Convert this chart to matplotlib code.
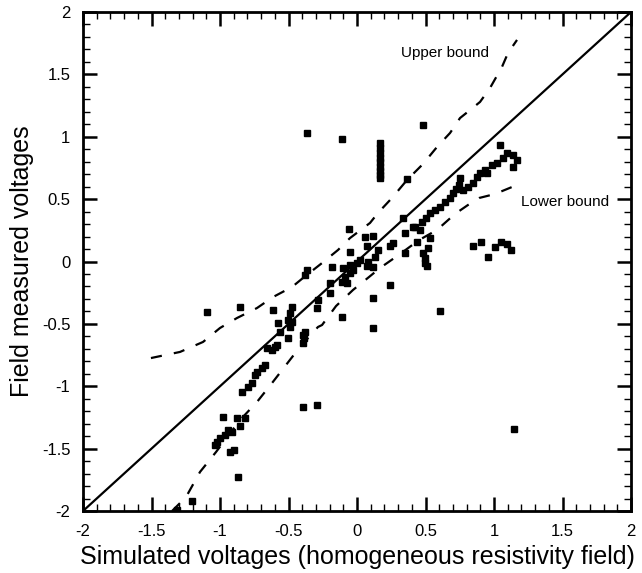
import matplotlib
matplotlib.use("Agg")
import matplotlib.pyplot as plt
from matplotlib.ticker import MultipleLocator
import numpy as np

plt.rcParams['font.family'] = ['Liberation Sans', 'DejaVu Sans']

# Scatter: simulated (x) vs field measured (y) voltages
sim_v = [-0.365, -0.109, 0.482,
         0.168, 0.168, 0.168, 0.168, 0.168, 0.168, 0.168, 0.165, 0.165,
         0.365, 1.044, 1.095, 1.139, 1.168, 1.139, 1.022, 0.985, 0.949, 0.898,
         0.876, 0.847, 0.810, 0.774, 0.752, 0.745, 0.701, 0.679, 0.642, 0.606,
         0.569, 0.533, 0.474, 0.423, 0.504, 0.723, 0.934, 1.066,
         0.336, 0.460, 0.409, 0.350, 0.263, 0.241, 0.350, 0.518, 0.482, 0.496,
         0.496, 0.511, 0.533, 0.438,
         0.847, 0.905, 0.956, 1.007, 1.051, 1.095, 1.124,
         0.606, 0.241, 0.117, 0.117,
         -0.058, 0.058, 0.117, 0.073, -0.051, 0.153, 0.131, 0.080, 0.073, 0.022,
         0.000, -0.051, -0.029, -0.051, -0.102, -0.088, -0.073, -0.109, -0.182,
         -0.197, -0.197, -0.285, -0.292, -0.365, -0.380, -0.109, 0.117,
         -0.613, -0.854, -1.095,
         -0.474, -0.489, -0.504, -0.489, -0.577, -0.474, -0.562, -0.504, -0.584,
         -0.394, -0.380, -0.387, -0.394,
         -0.657, -0.620, -0.599, -0.672, -0.693, -0.730, -0.745, -0.766, -0.796,
         -0.839, -0.978, -0.876, -0.818, -0.854, -0.912, -0.942, -0.964, -1.000,
         -1.022, -1.036, -0.927, -0.898, -0.869, -1.204, -1.314,
         -0.394, -0.292, 1.146]
field_v = [1.030, 0.982, 1.094,
           0.950, 0.910, 0.870, 0.830, 0.798, 0.758, 0.725, 0.693, 0.669,
           0.661, 0.934, 0.870, 0.854, 0.814, 0.758, 0.790, 0.774, 0.709, 0.709,
           0.677, 0.629, 0.597, 0.573, 0.669, 0.613, 0.549, 0.509, 0.477, 0.437,
           0.413, 0.389, 0.317, 0.277, 0.349, 0.581, 0.733, 0.830,
           0.349, 0.252, 0.277, 0.229, 0.148, 0.124, 0.068, 0.108, 0.068, 0.028,
           -0.012, -0.036, 0.188, 0.156,
           0.124, 0.156, 0.036, 0.116, 0.156, 0.140, 0.092,
           -0.397, -0.188, -0.293, -0.533,
           0.261, 0.196, 0.204, 0.124, 0.076, 0.092, 0.036, -0.004, -0.036, 0.012,
           -0.012, -0.028, -0.068, -0.092, -0.052, -0.124, -0.172, -0.164, -0.044,
           -0.172, -0.252, -0.309, -0.373, -0.068, -0.108, -0.445, -0.044,
           -0.389, -0.365, -0.405,
           -0.365, -0.413, -0.469, -0.525, -0.493, -0.485, -0.565, -0.613, -0.669,
           -0.589, -0.565, -0.613, -0.653,
           -0.693, -0.709, -0.685, -0.830, -0.854, -0.886, -0.910, -0.974, -1.006,
           -1.046, -1.246, -1.254, -1.254, -1.318, -1.367, -1.351, -1.391, -1.415,
           -1.447, -1.471, -1.527, -1.511, -1.727, -1.920, -1.990,
           -1.166, -1.150, -1.343]

# Upper bound (dashed)
upper_x = [-1.504, -1.292, -1.124, -1.000, -0.876, -0.730, -0.613, -0.474, -0.394,
           -0.255, -0.139, -0.051, 0.095, 0.153, 0.255, 0.365, 0.482, 0.584, 0.679,
           0.752, 0.825, 0.898, 0.971, 1.058, 1.102, 1.168]
upper_y = [-0.774, -0.725, -0.645, -0.533, -0.453, -0.373, -0.285, -0.204, -0.132,
           -0.012, 0.092, 0.188, 0.309, 0.389, 0.509, 0.653, 0.782, 0.918, 1.030,
           1.150, 1.214, 1.279, 1.391, 1.559, 1.671, 1.776]

# Lower bound (dashed)
lower_x = [-1.350, -1.248, -1.146, -1.029, -0.854, -0.730, -0.620, -0.496, -0.416,
           -0.285, -0.255, -0.153, -0.029, 0.088, 0.168, 0.314, 0.453, 0.584, 0.715,
           0.810, 0.891, 1.007, 1.131]
lower_y = [-2.000, -1.888, -1.687, -1.527, -1.271, -1.126, -0.974, -0.798, -0.685,
           -0.525, -0.509, -0.357, -0.228, -0.124, -0.052, 0.060, 0.172, 0.253, 0.381,
           0.453, 0.509, 0.541, 0.597]

ref_line = [-2, 2]
ticks = [-2, -1.5, -1, -0.5, 0, 0.5, 1, 1.5, 2]
tick_labels = ['-2', '-1.5', '-1', '-0.5', '0', '0.5', '1', '1.5', '2']

fig = plt.figure(figsize=(6.42, 5.73), dpi=100)
ax = fig.add_axes([83/642, 1 - 511/573, 548/642, 499/573])

ax.plot(ref_line, ref_line, color='black', lw=1.6, zorder=2)
ax.plot(upper_x, upper_y, color='black', lw=1.6, linestyle=(0, (5, 5.5)), zorder=2)
ax.plot(lower_x, lower_y, color='black', lw=1.6, linestyle=(0, (5, 5.5)), zorder=2)
ax.plot(sim_v, field_v, linestyle='none', marker='s', markersize=4.3,
        color='black', zorder=3, clip_on=True)

ax.text(0.32, 1.671, 'Upper bound', fontsize=11, va='center', ha='left')
ax.text(1.197, 0.477, 'Lower bound', fontsize=11, va='center', ha='left')

ax.set_xlim(-2, 2)
ax.set_ylim(-2, 2)
ax.set_xticks(ticks)
ax.set_xticklabels(tick_labels)
ax.set_yticks(ticks)
ax.set_yticklabels(tick_labels)
ax.xaxis.set_minor_locator(MultipleLocator(0.1))
ax.yaxis.set_minor_locator(MultipleLocator(0.1))
ax.tick_params(which='both', direction='in', top=True, right=True, labelsize=12, pad=9)
ax.tick_params(which='major', length=10, width=1.8)
ax.tick_params(which='minor', length=5, width=1.0)
for s in ax.spines.values():
    s.set_linewidth(2.0)

ax.set_xlabel('Simulated voltages (homogeneous resistivity field)', fontsize=18, labelpad=5)
ax.set_ylabel('Field measured voltages', fontsize=18, labelpad=6)

fig.savefig('out.png', dpi=100)
